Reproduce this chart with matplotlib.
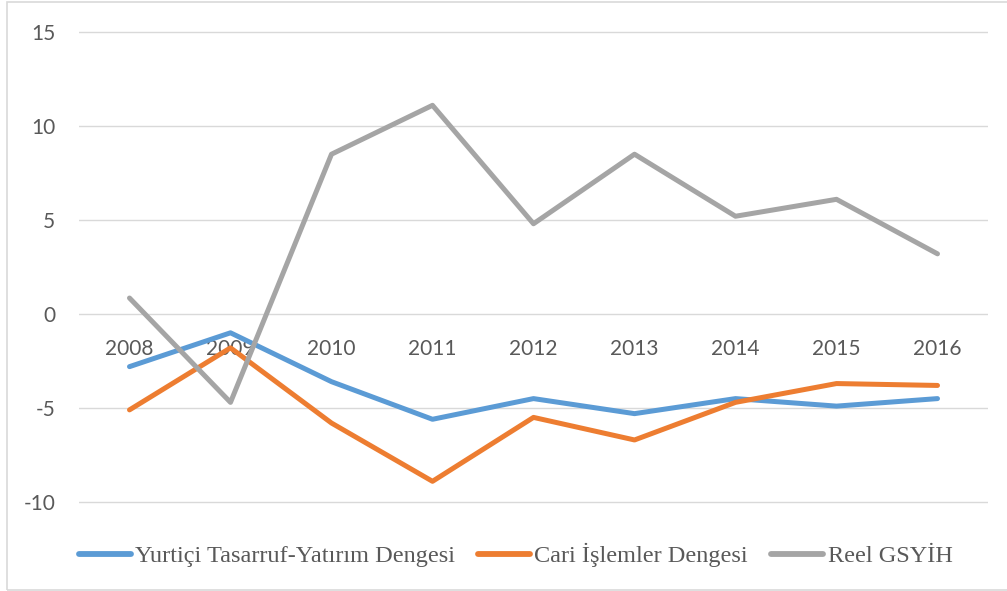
import matplotlib
matplotlib.use("Agg")
import matplotlib.pyplot as plt
from matplotlib.patches import Rectangle

years = ["2008", "2009", "2010", "2011", "2012", "2013", "2014", "2015", "2016"]
yurtici = [-2.8, -1.0, -3.6, -5.6, -4.5, -5.3, -4.5, -4.9, -4.5]
cari = [-5.1, -1.8, -5.8, -8.9, -5.5, -6.7, -4.7, -3.7, -3.8]
gsyih = [0.85, -4.7, 8.5, 11.1, 4.8, 8.5, 5.2, 6.1, 3.2]
series_names = ["Yurtiçi Tasarruf-Yatırım Dengesi", "Cari İşlemler Dengesi", "Reel GSYİH"]
yticks = [-10, -5, 0, 5, 10, 15]

colors = ["#5B9BD5", "#ED7D31", "#A5A5A5"]

W, H = 1007, 591
fig = plt.figure(figsize=(W / 100, H / 100), dpi=100)
fig.patches.append(Rectangle((7 / W, 1 - 590 / H), (1010 - 7) / W, (590 - 2) / H,
                             transform=fig.transFigure, fill=False,
                             edgecolor="#D9D9D9", linewidth=1.2))

ext = 0.15
ppu = 18.8
top_px = 32 - ext * ppu
bot_px = 502 + ext * ppu
ax = fig.add_axes([79 / W, 1 - bot_px / H, (988 - 79) / W, (bot_px - top_px) / H])
x = list(range(len(years)))
for vals, name, c in zip([yurtici, cari, gsyih], series_names, colors):
    ax.plot(x, vals, color=c, linewidth=3.6, label=name,
            solid_capstyle="round", solid_joinstyle="round", zorder=3)

ax.set_xlim(-0.5, len(years) - 0.5)
ax.set_ylim(-10 - ext, 15 + ext)
for s in ax.spines.values():
    s.set_visible(False)
ax.spines["bottom"].set_position(("data", 0))

ax.set_yticks(yticks)
ax.set_yticklabels([str(t) for t in yticks], fontfamily="Lato", fontsize=15, color="#595959")
ax.tick_params(axis="y", length=0, pad=17)
ax.grid(axis="y", color="#D9D9D9", linewidth=1.0, zorder=0)

ax.set_xticks(x)
ax.set_xticklabels(years, fontfamily="Lato", fontsize=15, color="#595959")
ax.tick_params(axis="x", length=0, pad=18)

leg = ax.legend(loc="center", bbox_to_anchor=(515.5 / W, 1 - 555 / H),
                bbox_transform=fig.transFigure, ncol=3, frameon=False,
                prop={"family": "Liberation Serif", "size": 17.5},
                handlelength=2.15, handletextpad=0.17, columnspacing=0.95,
                borderaxespad=0, borderpad=0)
for t in leg.get_texts():
    t.set_color("#595959")
for l in leg.get_lines():
    l.set_linewidth(4.2)
    l.set_solid_capstyle("round")

fig.savefig("out.png", dpi=100)
